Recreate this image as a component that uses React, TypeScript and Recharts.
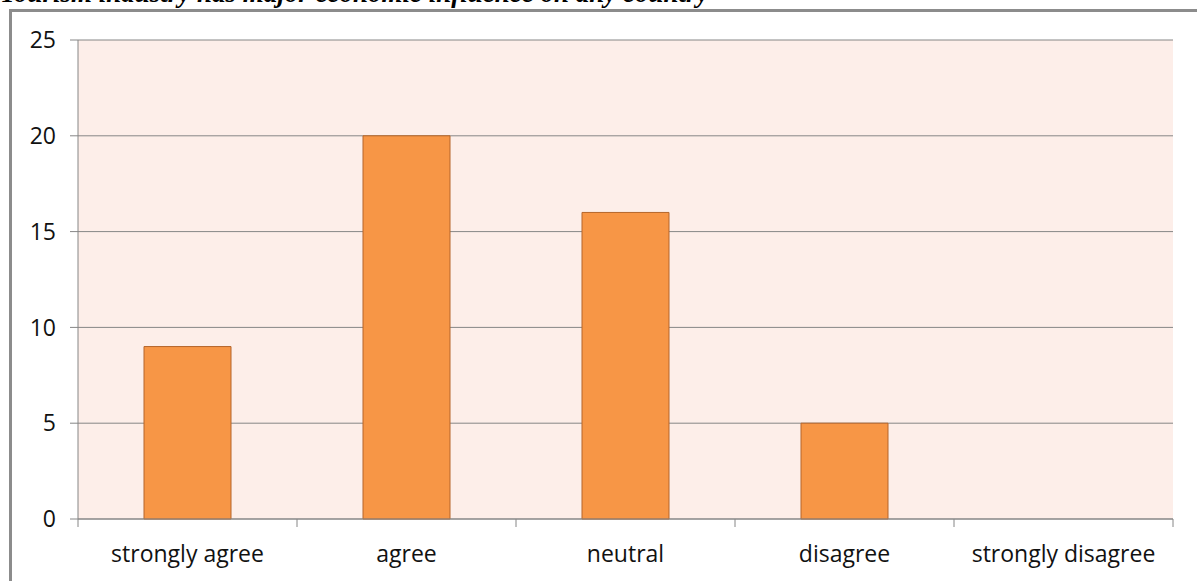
import { Bar, BarChart, CartesianGrid, XAxis, YAxis } from "recharts";

const categories = [
  "strongly agree",
  "agree",
  "neutral",
  "disagree",
  "strongly disagree",
];
const responses = [9, 20, 16, 5, 0];
const yTicks = [0, 5, 10, 15, 20, 25];

const title = "Tourism industry has major economic influence on any country";

const data = categories.map((name, i) => ({ name, value: responses[i] }));

const W = 1197;
const H = 581;
const margin = { top: 40, right: 24, left: 10, bottom: 12 };
const yAxisWidth = 68;
const plotWidth = W - margin.left - margin.right - yAxisWidth;
const band = plotWidth / categories.length;
const axisGray = "#868686";
const font = "'Open Sans', sans-serif";

function CategoryTick(props: any) {
  const { x, y, payload, index } = props;
  const half = band / 2;
  return (
    <g>
      <line x1={x - half} x2={x - half} y1={y - 8} y2={y} stroke={axisGray} />
      {index === categories.length - 1 && (
        <line x1={x + half} x2={x + half} y1={y - 8} y2={y} stroke={axisGray} />
      )}
      <text
        x={x}
        y={y + 35}
        textAnchor="middle"
        fontSize={23}
        fontFamily={font}
        fill="#111"
      >
        {payload.value}
      </text>
    </g>
  );
}

export default function App() {
  return (
    <div
      style={{
        position: "absolute",
        left: 0,
        top: 0,
        width: W,
        height: H,
        overflow: "hidden",
        background: "#fff",
      }}
    >
      <div
        style={{
          position: "absolute",
          left: 0,
          top: -20,
          fontFamily: "'Liberation Serif', serif",
          fontWeight: "bold",
          fontStyle: "italic",
          fontSize: 27,
          lineHeight: "27px",
          whiteSpace: "nowrap",
          color: "#000",
        }}
      >
        {title}
      </div>
      <div
        style={{
          position: "absolute",
          left: 9,
          top: 9,
          width: W,
          height: H,
          borderTop: "3px solid #8c8c8c",
          borderLeft: "3px solid #8c8c8c",
        }}
      />
      <div style={{ position: "absolute", left: 0, top: 0 }}>
        <BarChart width={W} height={H} data={data} margin={margin}>
          <CartesianGrid
            vertical={false}
            stroke={axisGray}
            fill="#FDEEE9"
            fillOpacity={1}
          />
          <XAxis
            dataKey="name"
            axisLine={{ stroke: axisGray }}
            tickLine={false}
            tick={<CategoryTick />}
            interval={0}
            height={50}
          />
          <YAxis
            domain={[0, 25]}
            ticks={yTicks}
            width={yAxisWidth}
            axisLine={{ stroke: axisGray }}
            tickLine={{ stroke: axisGray }}
            tickSize={8}
            tickMargin={14}
            tick={{ fontSize: 23, fontFamily: font, fill: "#111" }}
          />
          <Bar
            dataKey="value"
            fill="#F79646"
            stroke="#B5652A"
            strokeWidth={1}
            barSize={87}
            isAnimationActive={false}
          />
        </BarChart>
      </div>
    </div>
  );
}
